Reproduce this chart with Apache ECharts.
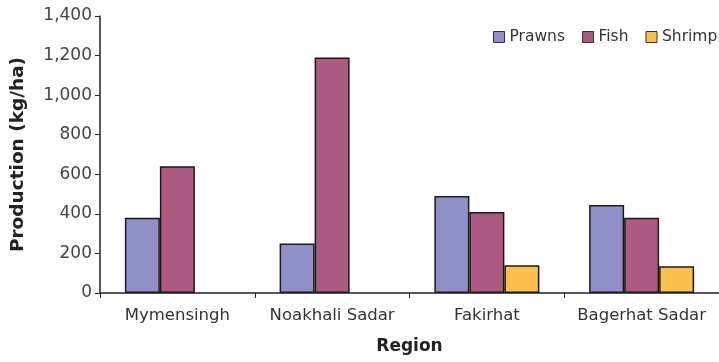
<!DOCTYPE html>
<html>
<head>
<meta charset="utf-8">
<script src="https://cdn.jsdelivr.net/npm/echarts@6/dist/echarts.min.js"></script>
<style>
  html, body { margin: 0; padding: 0; background: #fff; }
  #chart { width: 719px; height: 362px; }
</style>
</head>
<body>
<div id="chart"></div>
<script>
// Production by region (kg/ha)
const regions = ['Mymensingh', 'Noakhali Sadar', 'Fakirhat', 'Bagerhat Sadar'];
const prawns = [380, 250, 490, 445];
const fish = [640, 1190, 410, 380];
const shrimp = [null, null, 140, 135];
const yTicks = { min: 0, max: 1400, step: 200 };

const chart = echarts.init(document.getElementById('chart'));

const barStyle = (color) => ({
  color: color,
  borderColor: '#1a1a1a',
  borderWidth: 1.5
});

chart.setOption({
  animation: false,
  textStyle: { fontFamily: 'DejaVu Sans, sans-serif' },
  grid: { left: 100, top: 16, width: 620, bottom: 69 },
  legend: {
    left: 493,
    top: 29,
    width: 300,
    padding: 0,
    itemWidth: 11,
    itemHeight: 11,
    itemGap: 17,
    icon: 'rect',
    itemStyle: { borderColor: '#333', borderWidth: 1 },
    textStyle: { fontSize: 15.5, color: '#333' },
    data: ['Prawns', 'Fish', 'Shrimp']
  },
  xAxis: {
    type: 'category',
    data: regions,
    name: 'Region',
    nameLocation: 'middle',
    nameGap: 45,
    nameTextStyle: { fontSize: 17, fontWeight: 'bold', color: '#222' },
    axisLine: { lineStyle: { color: '#222', width: 1.5 } },
    axisTick: { show: true, interval: 0, length: 5, lineStyle: { color: '#222' } },
    axisLabel: { interval: 0, hideOverlap: false, fontSize: 16.5, color: '#333', margin: 14 }
  },
  yAxis: {
    type: 'value',
    min: yTicks.min,
    max: yTicks.max,
    interval: yTicks.step,
    name: 'Production (kg/ha)',
    nameLocation: 'middle',
    nameGap: 72,
    nameTextStyle: { fontSize: 18.5, fontWeight: 'bold', color: '#222' },
    axisLine: { show: true, lineStyle: { color: '#222', width: 1.5 } },
    axisTick: { show: true, length: 5, lineStyle: { color: '#222' } },
    axisLabel: {
      fontSize: 17,
      color: '#444',
      margin: 8,
      formatter: (v) => v.toLocaleString('en-US')
    },
    splitLine: { show: false }
  },
  series: [
    { name: 'Prawns', type: 'bar', data: prawns, itemStyle: barStyle('#9090c8'), barWidth: 35, barGap: '0%' },
    { name: 'Fish', type: 'bar', data: fish, itemStyle: barStyle('#ac5a80'), barWidth: 35, barGap: '0%' },
    { name: 'Shrimp', type: 'bar', data: shrimp, itemStyle: barStyle('#fcc04c'), barWidth: 35, barGap: '0%' }
  ]
});
</script>
</body>
</html>
